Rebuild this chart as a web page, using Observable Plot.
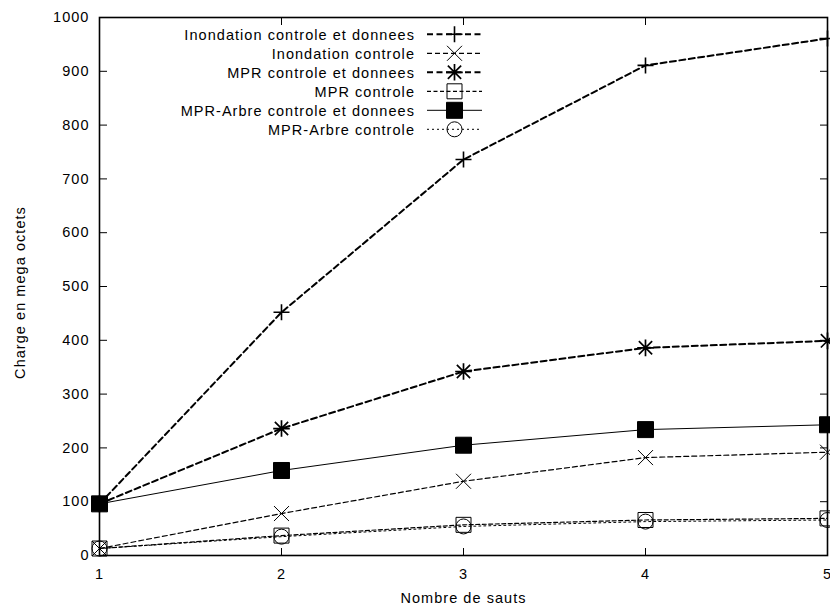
<!DOCTYPE html>
<html><head><meta charset="utf-8">
<script src="https://cdn.jsdelivr.net/npm/d3@7"></script>
<script src="https://cdn.jsdelivr.net/npm/@observablehq/plot@0.6"></script>
<style>body{margin:0;background:#fff}</style>
</head><body><div id="chart"></div>
<script>
// ---- data ----
const hops = [1, 2, 3, 4, 5];
const xTicks = [1, 2, 3, 4, 5];
const yTicks = [0, 100, 200, 300, 400, 500, 600, 700, 800, 900, 1000];
const seriesNames = [
  "Inondation controle et donnees",
  "Inondation controle",
  "MPR controle et donnees",
  "MPR controle",
  "MPR-Arbre controle et donnees",
  "MPR-Arbre controle"
];
const inondationControleDonnees = [96, 452, 736, 911, 961];
const inondationControle        = [13, 78, 138, 182, 192];
const mprControleDonnees        = [96, 236, 342, 386, 399];
const mprControle               = [13, 37, 57, 66, 69];
const arbreControleDonnees      = [96, 158, 205, 234, 243];
const arbreControle             = [13, 35, 54, 63, 66];
const xLabel = "Nombre de sauts";
const yLabel = "Charge en mega octets";

// ---- gnuplot-like point symbols ----
const rad = s => Math.sqrt(s / Math.PI);
const symPlus = {draw(c, s) {const r = rad(s); c.moveTo(-r, 0); c.lineTo(r, 0); c.moveTo(0, -r); c.lineTo(0, r);}};
const symTimes = {draw(c, s) {const r = rad(s); c.moveTo(-r, -r); c.lineTo(r, r); c.moveTo(-r, r); c.lineTo(r, -r);}};
const symStar = {draw(c, s) {const r = rad(s), d = r * 0.8;
  c.moveTo(-r, 0); c.lineTo(r, 0); c.moveTo(0, -r); c.lineTo(0, r);
  c.moveTo(-d, -d); c.lineTo(d, d); c.moveTo(-d, d); c.lineTo(d, -d);}};
const symSquare = {draw(c, s) {const r = rad(s); c.rect(-r, -r, 2 * r, 2 * r);}};
const symCircle = {draw(c, s) {const r = rad(s); c.moveTo(r, 0); c.arc(0, 0, r, 0, 2 * Math.PI);}};

const values = [inondationControleDonnees, inondationControle, mprControleDonnees, mprControle, arbreControleDonnees, arbreControle];
const styles = [
  {symbol: symPlus,   r: 8,   fill: "none",  mw: 1.6, lw: 2,   dash: "6,3.5"},
  {symbol: symTimes,  r: 7.5, fill: "none",  mw: 1,   lw: 1.2, dash: "5,3"},
  {symbol: symStar,   r: 8.3, fill: "none",  mw: 1.7, lw: 2,   dash: "6,3.5"},
  {symbol: symSquare, r: 7.5, fill: "none",  mw: 1,   lw: 1.2, dash: "4,2.5"},
  {symbol: symSquare, r: 8,   fill: "black", mw: 1,   lw: 1,   dash: null},
  {symbol: symCircle, r: 7.5, fill: "none",  mw: 1,   lw: 1,   dash: "2,3"}
];
const series = seriesNames.map((name, i) => ({
  name, ...styles[i],
  rows: hops.map((x, j) => ({series: name, x, y: values[i][j]}))
}));

const marks = [];
for (const s of series) {
  marks.push(Plot.line(s.rows, {x: "x", y: "y", stroke: "black", strokeWidth: s.lw, strokeDasharray: s.dash}));
}
for (const s of series) {
  marks.push(Plot.dot(s.rows, {x: "x", y: "y", symbol: s.symbol, r: s.r, stroke: "black", strokeWidth: s.mw, fill: s.fill}));
}
const blank = () => "";

const plot = Plot.plot({
  width: 830, height: 605,
  marginLeft: 99, marginRight: 3, marginTop: 17, marginBottom: 50,
  style: {fontFamily: "'Liberation Sans', Arial, sans-serif", fontSize: "14.5px", letterSpacing: "1.05px", color: "black", background: "white", overflow: "visible"},
  x: {domain: [1, 5], axis: null},
  y: {domain: [0, 1000], axis: null},
  marks: [
    Plot.axisX(xTicks, {anchor: "bottom", tickSize: -7, tickFormat: blank, label: null}),
    Plot.axisX(xTicks, {anchor: "top", tickSize: -7, tickFormat: blank, label: null}),
    Plot.axisY(yTicks, {anchor: "left", tickSize: -8, tickFormat: blank, label: null}),
    Plot.axisY(yTicks, {anchor: "right", tickSize: -8, tickFormat: blank, label: null}),
    Plot.axisX(xTicks, {anchor: "bottom", tickSize: 0, tickPadding: 13, tickFormat: d => String(d), label: null}),
    Plot.axisY(yTicks, {anchor: "left", tickSize: 0, tickPadding: 10, tickFormat: d => String(d), label: null}),
    ...marks,
    Plot.frame({stroke: "black", strokeWidth: 1.6}),
    Plot.text([xLabel], {frameAnchor: "bottom", dy: 47, lineAnchor: "bottom", textAnchor: "middle", fill: "black"}),
    Plot.text([yLabel], {frameAnchor: "left", textAnchor: "middle", lineAnchor: "middle", rotate: -90, dx: -79, dy: 6, fill: "black"})
  ]
});

// ---- legend (gnuplot key inside the plot) ----
const svg = d3.select(plot);
const key = svg.append("g");
series.forEach((s, i) => {
  const y = 34.3 + 19 * i;
  key.append("text").attr("x", 415).attr("y", y).attr("dy", "0.36em")
    .attr("text-anchor", "end").attr("fill", "black").text(s.name);
  key.append("line").attr("x1", 427).attr("x2", 482).attr("y1", y).attr("y2", y)
    .attr("stroke", "black").attr("stroke-width", s.lw).attr("stroke-dasharray", s.dash);
  key.append("path").attr("transform", `translate(454.5,${y})`)
    .attr("d", d3.symbol(s.symbol, Math.PI * s.r * s.r)())
    .attr("stroke", "black").attr("stroke-width", s.mw).attr("fill", s.fill);
});

document.getElementById("chart").append(plot);
</script>
</body></html>
